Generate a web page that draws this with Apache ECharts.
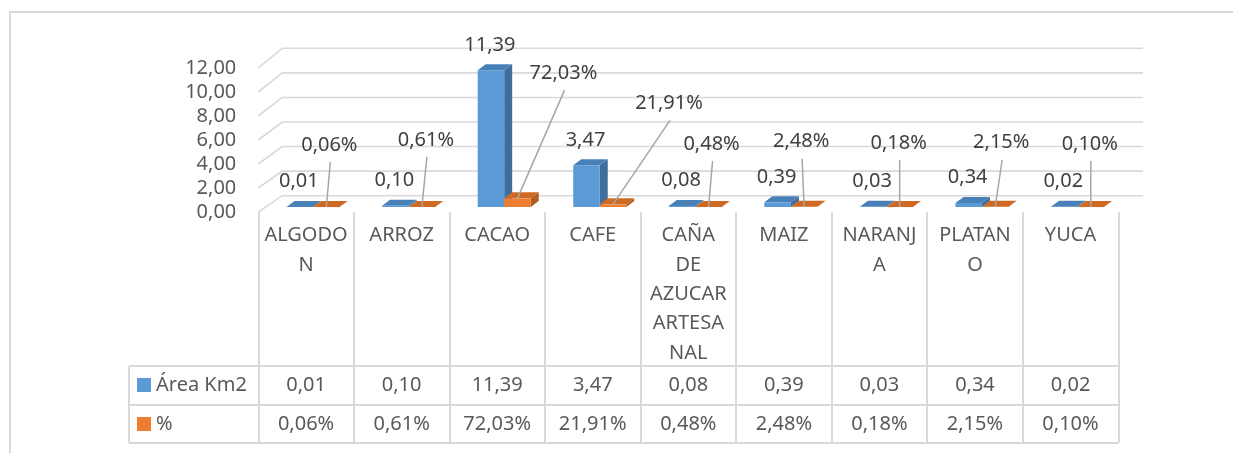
<!DOCTYPE html>
<html>
<head>
<meta charset="utf-8">
<script src="https://cdn.jsdelivr.net/npm/echarts@6/dist/echarts.min.js"></script>
<style>
  html, body { margin: 0; padding: 0; background: #ffffff; }
  #chart { width: 1233px; height: 453px; }
</style>
</head>
<body>
<div id="chart"></div>
<script>
// ---- data ----
const categories = ['ALGODON', 'ARROZ', 'CACAO', 'CAFE', 'CAÑA DE AZUCAR ARTESANAL', 'MAIZ', 'NARANJA', 'PLATANO', 'YUCA'];
const areaKm2 = [0.01, 0.10, 11.39, 3.47, 0.08, 0.39, 0.03, 0.34, 0.02];
const sharePct = [0.06, 0.61, 72.03, 21.91, 0.48, 2.48, 0.18, 2.15, 0.10];
const yTicks = [0, 2, 4, 6, 8, 10, 12];
const seriesNames = ['Área Km2', '%'];

// where each percentage label sits: [shift right, lift above the bar top] in px
const pctLabelPlacement = [[3, 62], [4, 67], [46, 125], [56, 101], [3, 63], [-3, 65], [-1, 64], [6, 64], [-1, 63]];

// ---- look ----
const FONT_FAMILY = '"Noto Sans", "Open Sans", sans-serif';
const FONT = '20px ' + FONT_FAMILY;
const TEXT = '#595959';
const LABEL = '#404040';
const LINE = '#d9d9d9';
const LEADER = '#a6a6a6';
const BLUE = { front: '#5B9BD5', side: '#3F6E9C', top: '#4A80B8' };
const ORANGE = { front: '#ED7D31', side: '#B25C1F', top: '#CF6A25' };

// oblique projection of the 3-D box
const WALL = { dx: 24, dy: -16.3, stretch: 0.0236 };
const BAR_SHIFT = { dx: 7, dy: -5 };
const BAR_DEPTH = { dx: 8, dy: -6 };
const BAR_FRAC = 0.2775;

const fmt = v => v.toFixed(2).replace('.', ',');
const wrapLabel = name => name.split(' ').map(w => w.match(/.{1,6}/g).join('\n')).join('\n');

function barGeometry(api, i, v, side) {
  const band = api.size([1, 0])[0];
  const w = band * BAR_FRAC;
  const base = api.coord([i, 0]);
  const top = api.coord([i, v]);
  const pairCenter = base[0] + BAR_SHIFT.dx;
  const x1 = side === 0 ? pairCenter - w : pairCenter;
  return { x1: x1, x2: x1 + w, yb: base[1] + BAR_SHIFT.dy, yt: top[1] + BAR_SHIFT.dy };
}

function renderBar(side, palette) {
  return function (params, api) {
    const g = barGeometry(api, api.value(0), api.value(1), side);
    const dx = BAR_DEPTH.dx, dy = BAR_DEPTH.dy;
    return {
      type: 'group',
      children: [
        { type: 'polygon', shape: { points: [[g.x2, g.yt], [g.x2 + dx, g.yt + dy], [g.x2 + dx, g.yb + dy], [g.x2, g.yb]] }, style: { fill: palette.side } },
        { type: 'polygon', shape: { points: [[g.x1, g.yt], [g.x1 + dx, g.yt + dy], [g.x2 + dx, g.yt + dy], [g.x2, g.yt]] }, style: { fill: palette.top } },
        { type: 'rect', shape: { x: g.x1, y: g.yt, width: g.x2 - g.x1, height: Math.max(g.yb - g.yt, 0.1) }, style: { fill: palette.front } }
      ]
    };
  };
}

// back wall gridlines plus the left edge running to the front axis
function renderWall(params, api) {
  const cs = params.coordSys;
  const base0 = cs.y + cs.height;
  const yF = api.coord([0, api.value(1)])[1];
  const yB = yF + WALL.dy - (base0 - yF) * WALL.stretch;
  return {
    type: 'polyline',
    shape: { points: [[cs.x, yF], [cs.x + WALL.dx, yB], [cs.x + cs.width + WALL.dx + 0.7, yB]] },
    style: { stroke: LINE, lineWidth: 1.6, fill: null }
  };
}

// horizontal rules of the data table and the legend column edge
function renderTableFrame(params, api) {
  const cs = params.coordSys;
  const yB = cs.y + cs.height;
  const left = cs.x - 129.3;
  const right = cs.x + cs.width;
  const rows = [154, 193, 231];
  const children = rows.map(r => ({
    type: 'line', shape: { x1: left, y1: yB + r, x2: right, y2: yB + r },
    style: { stroke: LINE, lineWidth: 2 }
  }));
  children.push({ type: 'line', shape: { x1: left, y1: yB + rows[0], x2: left, y2: yB + rows[2] }, style: { stroke: LINE, lineWidth: 2 } });
  return { type: 'group', children: children };
}

// the two value rows of the data table
function renderTableText(params, api) {
  const i = api.value(0);
  const p = api.coord([i, 0]);
  return {
    type: 'group',
    children: [
      { type: 'text', style: { text: fmt(api.value(1)), x: p[0], y: p[1] + 173, align: 'center', verticalAlign: 'middle', font: FONT, fill: TEXT } },
      { type: 'text', style: { text: fmt(api.value(2)) + '%', x: p[0], y: p[1] + 212, align: 'center', verticalAlign: 'middle', font: FONT, fill: TEXT } }
    ]
  };
}

// value labels above the bars; percentages hang on leader lines
function renderLabels(params, api) {
  const i = api.value(0);
  const area = api.value(1);
  const pct = api.value(2);
  const b = barGeometry(api, i, area, 0);
  const o = barGeometry(api, i, pct / 100, 1);
  const place = pctLabelPlacement[i];
  const ox = (o.x1 + o.x2) / 2;
  const lx = ox + place[0];
  const ly = o.yt - place[1];
  return {
    type: 'group',
    children: [
      { type: 'line', shape: { x1: lx + 1, y1: ly + 17, x2: ox, y2: o.yt }, style: { stroke: LEADER, lineWidth: 1.5 } },
      { type: 'text', style: { text: fmt(area), x: (b.x1 + b.x2) / 2 - 1, y: b.yt - 25.5, align: 'center', verticalAlign: 'middle', font: FONT, fill: LABEL } },
      { type: 'text', style: { text: fmt(pct) + '%', x: lx, y: ly, align: 'center', verticalAlign: 'middle', font: FONT, fill: LABEL } }
    ]
  };
}

const chart = echarts.init(document.getElementById('chart'), null, { renderer: 'canvas' });

chart.setOption({
  animation: false,
  backgroundColor: '#ffffff',
  graphic: [{
    type: 'rect', silent: true,
    shape: { x: 10, y: 12, width: 1300, height: 500 },
    style: { fill: 'none', stroke: LINE, lineWidth: 2 }
  }],
  legend: {
    data: seriesNames.map(n => ({ name: n, icon: 'rect' })),
    orient: 'vertical',
    left: 137, top: 375,
    padding: 0,
    itemWidth: 14, itemHeight: 14, itemGap: 19,
    selectedMode: false,
    textStyle: { color: TEXT, fontSize: 20, fontFamily: FONT_FAMILY, lineHeight: 20 }
  },
  grid: { left: 258.3, right: 114.7, top: 68, bottom: 241 },
  xAxis: {
    type: 'category',
    data: categories,
    boundaryGap: true,
    axisLine: { show: false },
    axisTick: { show: true, interval: 0, length: 231, lineStyle: { color: LINE, width: 2 } },
    axisLabel: {
      interval: 0, margin: 9, color: TEXT, fontSize: 20, fontFamily: FONT_FAMILY,
      lineHeight: 29.3, align: 'center', formatter: wrapLabel
    },
    splitLine: { show: false }
  },
  yAxis: {
    type: 'value',
    min: 0, max: 12, interval: 2,
    axisLine: { show: false },
    axisTick: { show: false },
    splitLine: { show: false },
    axisLabel: { margin: 22, color: TEXT, fontSize: 20, fontFamily: FONT_FAMILY, formatter: fmt }
  },
  series: [
    { type: 'custom', name: 'wall', silent: true, renderItem: renderWall, data: yTicks.map(v => [0, v]), z: 1 },
    { type: 'custom', name: 'frame', silent: true, renderItem: renderTableFrame, data: [[0, 0]], z: 1 },
    { type: 'custom', name: 'table', silent: true, renderItem: renderTableText, data: categories.map((c, i) => [i, areaKm2[i], sharePct[i]]), z: 2 },
    { type: 'custom', name: seriesNames[0], renderItem: renderBar(0, BLUE), itemStyle: { color: BLUE.front }, data: areaKm2.map((v, i) => [i, v]), z: 3 },
    { type: 'custom', name: seriesNames[1], renderItem: renderBar(1, ORANGE), itemStyle: { color: ORANGE.front }, data: sharePct.map((v, i) => [i, v / 100]), z: 4 },
    { type: 'custom', name: 'labels', silent: true, renderItem: renderLabels, data: categories.map((c, i) => [i, areaKm2[i], sharePct[i]]), z: 5 }
  ]
});
</script>
</body>
</html>
